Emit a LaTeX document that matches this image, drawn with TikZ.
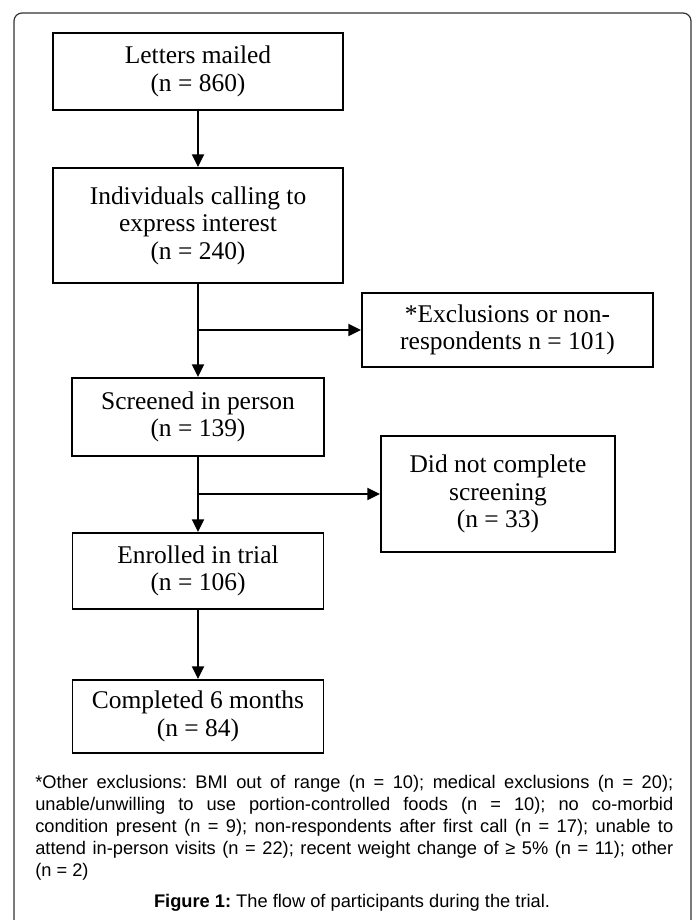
\documentclass[tikz,border=0pt]{standalone}
\usepackage{fontspec}
\setmainfont{Liberation Serif}
\newfontfamily\notefont{Liberation Sans}
\usetikzlibrary{arrows.meta}
\frenchspacing

\begin{document}
\begin{tikzpicture}[x=0.75pt,y=-0.75pt,
  box/.style={draw,line width=1.4pt,align=center,inner sep=2pt,
    font=\fontsize{19.1pt}{20.6pt}\selectfont},
  arr/.style={line width=1.4pt,-{Triangle[length=9.5pt,width=9pt]}}]
\useasboundingbox (0,0) rectangle (696,920);
\draw[line width=0.9pt,black!80,rounded corners=6pt] (14,925) -- (14,13) -- (691,13) -- (691,925);

\node[box,minimum width=217.5pt,minimum height=57.75pt] (mail) at (198,71.5) {Letters mailed\\(n = 860)};
\node[box,minimum width=217.5pt,minimum height=86.25pt] (call) at (198,225.5) {Individuals calling to\\express interest\\(n = 240)};
\node[box,minimum width=218.25pt,minimum height=55.5pt] (excl) at (507.5,330) {*Exclusions or non-\\respondents n = 101)};
\node[box,minimum width=189pt,minimum height=58.5pt] (scrn) at (198,417) {Screened in person\\(n = 139)};
\node[box,minimum width=175.5pt,minimum height=87pt] (drop) at (498,494) {Did not complete\\screening\\(n = 33)};
\node[box,minimum width=188.25pt,minimum height=57pt] (enrl) at (198,571) {Enrolled in trial\\(n = 106)};
\node[box,minimum width=188.25pt,minimum height=54.75pt] (done) at (198,716.5) {Completed 6 months\\(n = 84)};

\coordinate (j1) at (call.south |- excl.west);
\coordinate (j2) at (scrn.south |- drop.west);

\draw[arr] (mail) -- (call);
\draw[arr] (call) -- (scrn);
\draw[arr] (j1) -- (excl);
\draw[arr] (scrn) -- (enrl);
\draw[arr] (j2) -- (drop);
\draw[arr] (enrl) -- (done);

% footnote and caption
\node[anchor=north west,inner sep=0pt,text width=478.5pt,align=justify,
  font=\notefont\fontsize{13.7pt}{16.5pt}\selectfont] (note) at (35,775)
  {*Other exclusions: BMI out of range (n = 10); medical exclusions (n = 20);\linebreak
   unable/unwilling to use portion-controlled foods (n = 10); no co-morbid\linebreak
   condition present (n = 9); non-respondents after first call (n = 17); unable to\linebreak
   attend in-person visits (n = 22); recent weight change of ≥ 5\% (n = 11); other\linebreak
   (n = 2)};
\node[anchor=base,inner sep=0pt,font=\notefont\fontsize{13.7pt}{16pt}\selectfont] (capt) at (352,907)
  {\textbf{Figure 1:} The flow of participants during the trial.};
\end{tikzpicture}
\end{document}
